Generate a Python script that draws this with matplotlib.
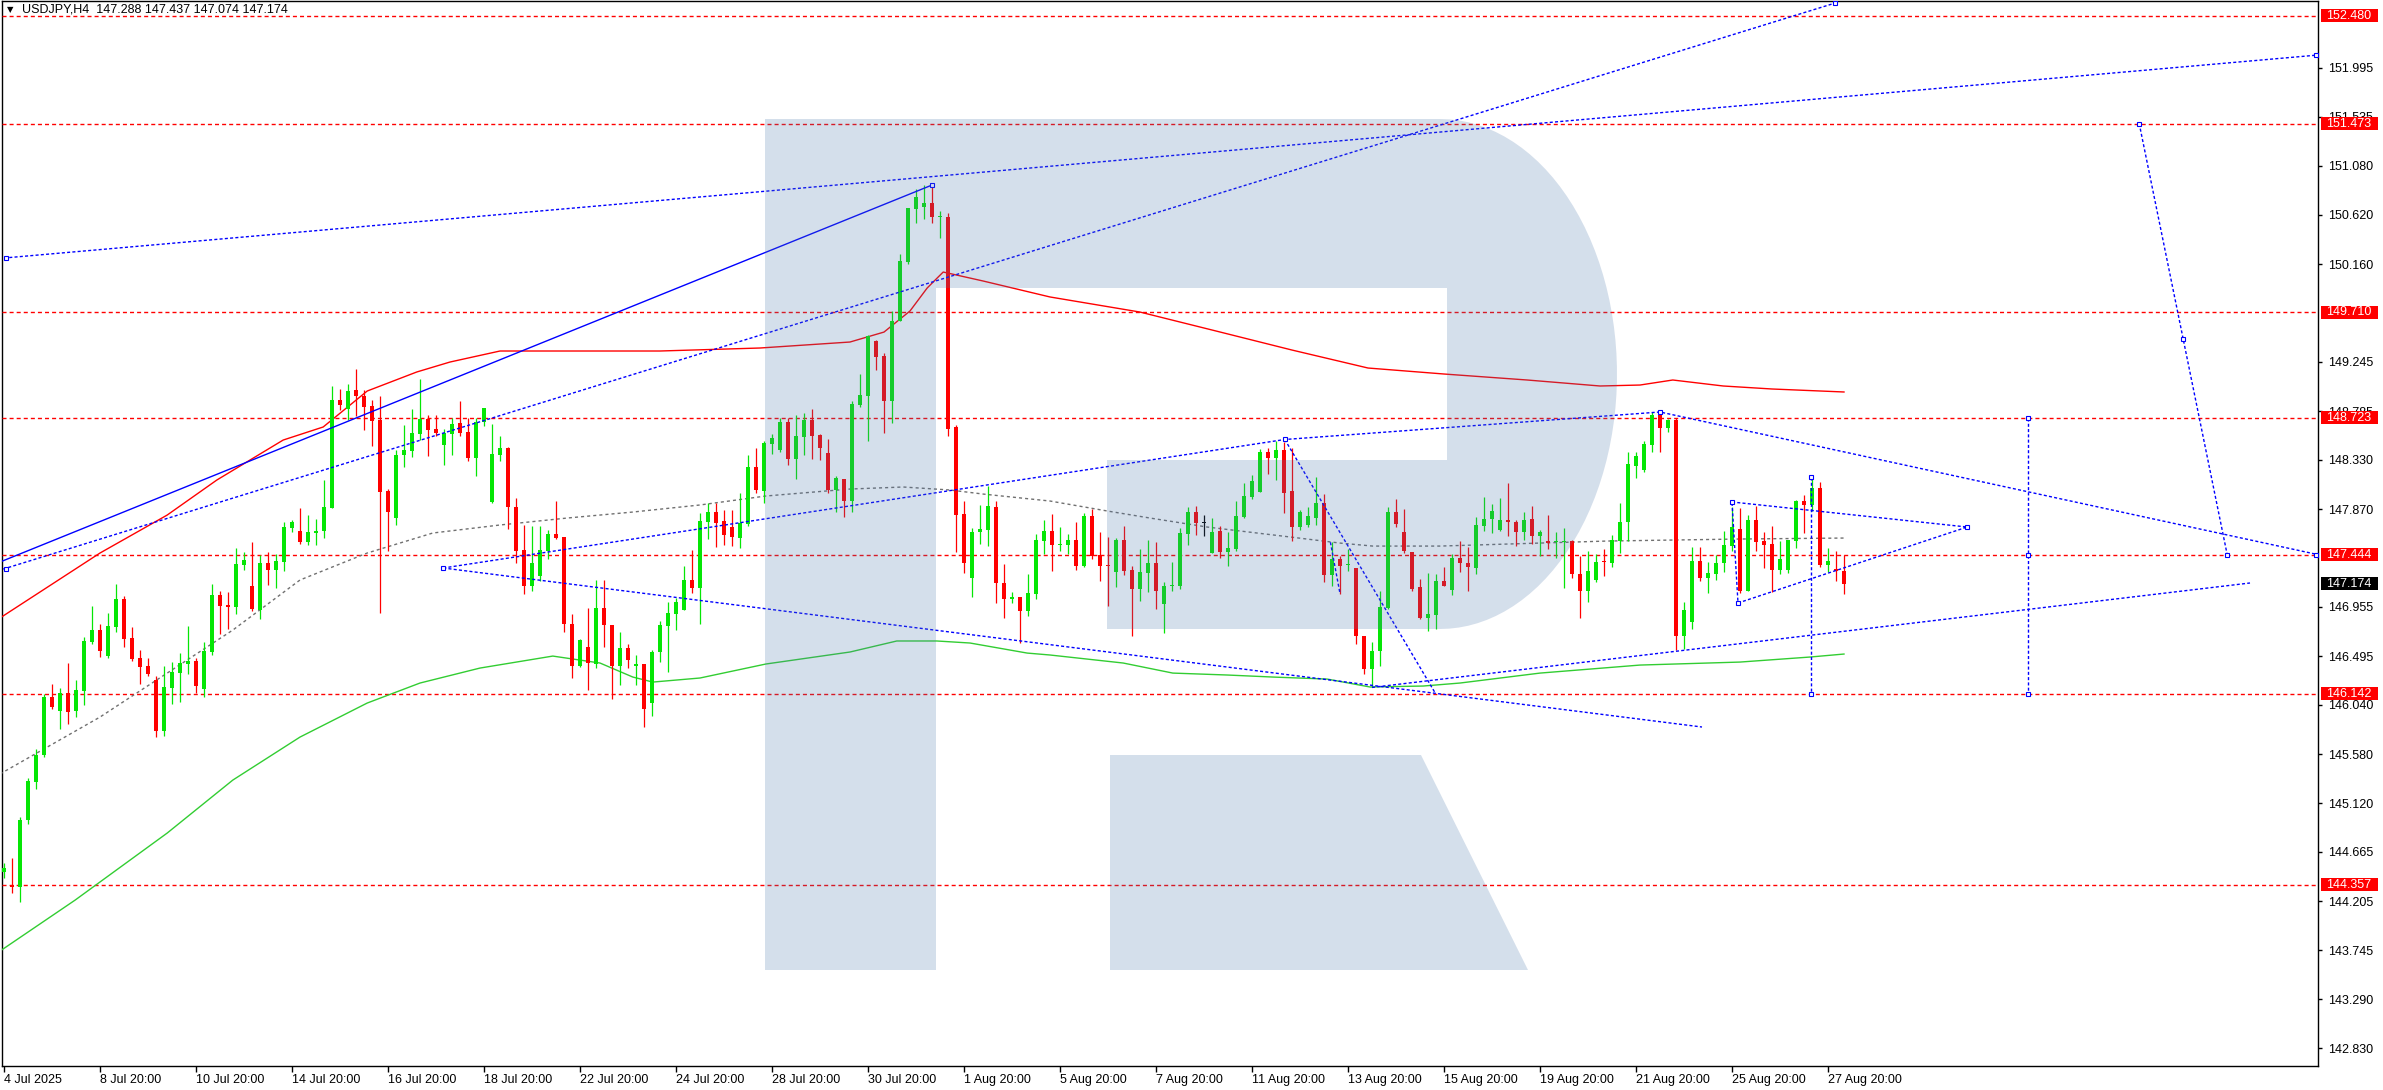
import numpy as np
import matplotlib
matplotlib.use("Agg")
import matplotlib.pyplot as plt
import matplotlib.transforms as mtransforms
from matplotlib.patches import Polygon, Rectangle

plt.rcParams['font.family'] = ['Liberation Sans', 'DejaVu Sans']
plt.rcParams['lines.scale_dashes'] = False

# H4 candles, bar 0 = 4 Jul 2025 20:00
opens = [
    144.475, 144.357, 144.335, 144.96, 145.319, 145.569, 146.113, 145.982, 146.15, 145.982,
    146.169, 146.625, 146.741, 146.497, 146.769, 147.031, 146.666, 146.478, 146.403, 146.272,
    145.794, 146.197, 146.338, 146.422, 146.45, 146.188, 146.531, 147.069, 146.975, 146.956,
    147.35, 147.153, 146.928, 147.369, 147.303, 147.378, 147.697, 147.669, 147.56, 147.65,
    147.663, 147.882, 148.891, 148.806, 148.985, 148.928, 148.835, 148.703, 148.038, 147.788,
    148.375, 148.413, 148.575, 148.713, 148.619, 148.469, 148.575, 148.675, 148.591, 148.35,
    148.685, 147.935, 148.375, 148.441, 147.888, 147.484, 147.147, 147.241, 147.478, 147.635,
    147.606, 146.8, 146.406, 146.585, 146.422, 146.941, 146.791, 146.4, 146.575, 146.4,
    146.425, 146.053, 146.531, 146.781, 146.885, 146.931, 147.203, 147.132, 147.749, 147.847,
    147.756, 147.7, 147.601, 147.733, 148.267, 148.038, 148.477, 148.421, 148.684, 148.339,
    148.543, 148.7, 148.562, 148.392, 148.051, 148.149, 147.946, 148.838, 148.93, 149.438,
    149.3, 148.881, 149.625, 150.176, 150.675, 150.694, 150.734, 150.6, 150.602, 148.635,
    147.821, 147.224, 147.651, 147.674, 147.887, 147.182, 147.027, 147.05, 146.919, 147.077,
    147.572, 147.663, 147.535, 147.535, 147.578, 147.338, 147.803, 147.441, 147.345, 147.281,
    147.578, 147.297, 147.122, 147.272, 147.363, 146.981, 147.147, 147.147, 147.638, 147.841,
    147.735, 147.46, 147.663, 147.469, 147.497, 147.797, 147.985, 148.031, 148.403, 148.35,
    148.422, 148.038, 147.703, 147.722, 147.788, 147.925, 147.253, 147.4, 147.345, 147.316,
    146.688, 146.372, 146.541, 146.944, 147.841, 147.653, 147.472, 147.138, 146.85, 146.878,
    147.194, 147.11, 147.416, 147.369, 147.322, 147.71, 147.775, 147.678, 147.772, 147.753,
    147.653, 147.781, 147.616, 147.563, 147.566, 147.566, 147.575, 147.266, 147.1, 147.21,
    147.378, 147.369, 147.569, 147.747, 148.272, 148.235, 148.469, 148.75, 148.628, 148.7,
    146.685, 146.819, 147.388, 147.222, 147.266, 147.363, 147.522, 147.688, 147.1, 147.763,
    147.569, 147.541, 147.297, 147.297, 147.569, 147.941, 147.906, 148.063, 147.344, 147.313,
    147.288]
highs = [
    144.56, 144.613, 144.988, 145.357, 145.632, 146.138, 146.238, 146.194, 146.432, 146.272,
    146.675, 146.966, 146.794, 146.9, 147.172, 147.06, 146.769, 146.553, 146.481, 146.31,
    146.403, 146.444, 146.528, 146.778, 146.481, 146.628, 147.172, 147.1, 147.091, 147.51,
    147.472, 147.566, 147.444, 147.466, 147.453, 147.753, 147.772, 147.884, 147.819, 147.781,
    148.141, 149.022, 148.994, 149.041, 149.181, 148.985, 148.891, 148.928, 148.056, 148.422,
    148.656, 148.806, 149.088, 148.75, 148.75, 148.619, 148.722, 148.881, 148.725, 148.722,
    148.816, 148.666, 148.553, 148.453, 147.969, 147.719, 147.71, 147.71, 147.672, 147.944,
    147.606, 146.885, 146.66, 146.941, 147.203, 147.203, 146.791, 146.725, 146.613, 146.51,
    146.425, 146.556, 146.828, 147.006, 147.035, 147.335, 147.485, 147.831, 147.929, 147.929,
    147.864, 147.864, 148.018, 148.372, 148.444, 148.51, 148.575, 148.717, 148.717, 148.749,
    148.766, 148.805, 148.575, 148.52, 148.175, 148.149, 148.881, 149.133, 149.497, 149.454,
    149.333, 149.717, 150.255, 150.684, 150.865, 150.898, 150.898, 150.652, 150.635, 148.651,
    147.946, 147.69, 147.906, 148.084, 147.946, 147.355, 147.093, 147.05, 147.264, 147.634,
    147.772, 147.828, 147.703, 147.641, 147.747, 147.835, 147.875, 147.653, 147.61, 147.6,
    147.71, 147.334, 147.494, 147.578, 147.56, 147.185, 147.372, 147.694, 147.891, 147.897,
    147.813, 147.785, 147.71, 147.653, 147.944, 148.116, 148.185, 148.431, 148.441, 148.51,
    148.497, 148.444, 147.86, 147.891, 148.169, 148.01, 147.563, 147.428, 147.497, 147.316,
    146.688, 146.631, 147.1, 147.888, 147.963, 147.869, 147.472, 147.213, 147.269, 147.26,
    147.325, 147.45, 147.575, 147.513, 147.794, 147.981, 147.919, 147.975, 148.11, 147.772,
    147.847, 147.894, 147.678, 147.81, 147.66, 147.691, 147.585, 147.435, 147.481, 147.453,
    147.5, 147.631, 147.922, 148.4, 148.4, 148.503, 148.775, 148.788, 148.716, 148.722,
    146.997, 147.519, 147.513, 147.372, 147.444, 147.669, 147.888, 147.878, 147.81, 147.903,
    147.66, 147.716, 147.569, 147.578, 147.956, 147.997, 148.169, 148.122, 147.51, 147.481,
    147.437]
lows = [
    144.419, 144.278, 144.2, 144.925, 145.257, 145.55, 146.003, 145.813, 145.863, 145.925,
    146.038, 146.613, 146.491, 146.478, 146.722, 146.581, 146.447, 146.238, 146.31, 145.738,
    145.747, 146.05, 146.066, 146.328, 146.147, 146.116, 146.506, 146.706, 146.75, 146.888,
    147.303, 146.919, 146.838, 147.163, 147.135, 147.294, 147.66, 147.544, 147.538, 147.538,
    147.6, 147.882, 148.797, 148.703, 148.735, 148.61, 148.46, 146.897, 147.478, 147.719,
    148.266, 148.36, 148.516, 148.366, 148.553, 148.281, 148.375, 148.553, 148.319, 148.178,
    148.647, 147.925, 148.319, 147.681, 147.369, 147.072, 147.1, 147.194, 147.4, 147.588,
    146.725, 146.294, 146.397, 146.181, 146.381, 146.585, 146.097, 146.222, 146.381, 146.228,
    145.835, 145.938, 146.438, 146.344, 146.744, 146.922, 147.085, 146.8, 147.592, 147.519,
    147.536, 147.526, 147.503, 147.716, 148.018, 147.929, 148.389, 148.405, 148.28, 148.152,
    148.372, 148.339, 148.333, 148.018, 147.838, 147.798, 147.847, 148.821, 148.503, 149.169,
    148.582, 148.677, 149.625, 150.16, 150.547, 150.58, 150.543, 150.406, 148.553, 147.47,
    147.273, 147.05, 147.542, 147.526, 146.995, 146.854, 146.995, 146.617, 146.87, 147.027,
    147.447, 147.291, 147.478, 147.447, 147.303, 147.328, 147.403, 147.194, 146.963, 147.141,
    147.253, 146.681, 147.01, 147.094, 146.935, 146.71, 147.103, 147.122, 147.531, 147.628,
    147.616, 147.46, 147.413, 147.338, 147.478, 147.785, 147.966, 148.028, 148.197, 148.141,
    147.835, 147.572, 147.675, 147.703, 147.722, 147.188, 147.153, 147.072, 147.291, 146.606,
    146.325, 146.203, 146.406, 146.935, 147.703, 147.46, 147.103, 146.841, 146.728, 146.753,
    147.15, 147.063, 147.285, 147.106, 147.263, 147.669, 147.644, 147.666, 147.616, 147.522,
    147.578, 147.541, 147.428, 147.494, 147.41, 147.128, 147.222, 146.856, 146.997, 147.185,
    147.241, 147.325, 147.463, 147.569, 148.16, 148.216, 148.403, 148.403, 148.591, 146.556,
    146.566, 146.753, 147.194, 147.082, 147.21, 147.278, 147.475, 147.082, 147.1, 147.481,
    147.316, 147.091, 147.26, 147.269, 147.503, 147.644, 147.85, 147.325, 147.278, 147.194,
    147.074]
closes = [
    144.519, 144.335, 144.966, 145.325, 145.575, 146.113, 146.019, 146.15, 145.975, 146.178,
    146.638, 146.741, 146.544, 146.778, 147.031, 146.66, 146.472, 146.397, 146.325, 145.794,
    146.21, 146.347, 146.432, 146.45, 146.219, 146.544, 147.069, 146.966, 146.956, 147.36,
    147.397, 146.938, 147.369, 147.303, 147.388, 147.706, 147.753, 147.56, 147.66, 147.669,
    147.888, 148.891, 148.844, 148.975, 148.922, 148.825, 148.697, 148.031, 147.844, 148.375,
    148.422, 148.582, 148.713, 148.613, 148.585, 148.582, 148.666, 148.582, 148.35, 148.685,
    148.816, 148.385, 148.441, 147.891, 147.478, 147.147, 147.363, 147.484, 147.635, 147.603,
    146.794, 146.406, 146.65, 146.428, 146.941, 146.785, 146.4, 146.575, 146.463, 146.425,
    146.006, 146.538, 146.791, 146.894, 146.997, 147.203, 147.131, 147.756, 147.847, 147.742,
    147.628, 147.611, 147.736, 148.267, 148.044, 148.487, 148.53, 148.684, 148.339, 148.553,
    148.7, 148.553, 148.444, 148.044, 148.159, 147.946, 148.848, 148.936, 149.487, 149.29,
    148.881, 149.628, 150.186, 150.684, 150.789, 150.734, 150.602, 150.609, 148.618, 147.815,
    147.369, 147.651, 147.683, 147.897, 147.182, 147.027, 147.05, 146.919, 147.083, 147.578,
    147.663, 147.535, 147.54, 147.578, 147.338, 147.803, 147.431, 147.338, 147.338, 147.578,
    147.291, 147.122, 147.278, 147.363, 147.103, 147.147, 147.15, 147.644, 147.841, 147.735,
    147.735, 147.653, 147.469, 147.503, 147.803, 147.991, 148.131, 148.403, 148.35, 148.422,
    148.022, 147.703, 147.841, 147.803, 147.925, 147.253, 147.4, 147.338, 147.35, 146.681,
    146.372, 146.547, 146.95, 147.841, 147.731, 147.478, 147.122, 146.85, 146.885, 147.194,
    147.15, 147.416, 147.363, 147.325, 147.725, 147.781, 147.856, 147.772, 147.747, 147.653,
    147.772, 147.616, 147.66, 147.557, 147.569, 147.57, 147.26, 147.1, 147.294, 147.378,
    147.372, 147.585, 147.753, 148.288, 148.363, 148.475, 148.75, 148.628, 148.7, 146.685,
    146.928, 147.388, 147.222, 147.275, 147.369, 147.531, 147.7, 147.1, 147.763, 147.56,
    147.531, 147.297, 147.406, 147.578, 147.941, 147.906, 148.063, 147.344, 147.388, 147.291,
    147.174]

symbol_text = "USDJPY,H4  147.288 147.437 147.074 147.174"
date_labels = ["4 Jul 2025", "8 Jul 20:00", "10 Jul 20:00", "14 Jul 20:00", "16 Jul 20:00",
               "18 Jul 20:00", "22 Jul 20:00", "24 Jul 20:00", "28 Jul 20:00", "30 Jul 20:00",
               "1 Aug 20:00", "5 Aug 20:00", "7 Aug 20:00", "11 Aug 20:00", "13 Aug 20:00",
               "15 Aug 20:00", "19 Aug 20:00", "21 Aug 20:00", "25 Aug 20:00", "27 Aug 20:00"]
label_step = 12
# grid prices still readable on the scale (others sit under the level boxes)
price_ticks = [151.995, 151.535, 151.080, 150.620, 150.160, 149.245, 148.785, 148.330,
               147.870, 146.955, 146.495, 146.040, 145.580, 145.120, 144.665, 144.205,
               143.745, 143.290, 142.830]
levels = [152.480, 151.473, 149.710, 148.723, 147.444, 146.142, 144.357]
last_price = 147.174

# moving averages (bar index, price)
ma_red_x = [-0.5, 12, 20.4, 26.6, 34.9, 39.9, 45.4, 51.6, 55.75, 62, 82, 94.5, 105.75, 110,
            113.25, 115.4, 117.4, 122.4, 130.75, 142, 151.5, 161, 170.5, 180, 190.4, 199.5,
            204.5, 208.6, 214.9, 221, 230]
ma_red_y = [146.852, 147.459, 147.814, 148.141, 148.515, 148.637, 148.973, 149.151, 149.244,
            149.347, 149.347, 149.375, 149.431, 149.524, 149.721, 149.936, 150.085, 150.001,
            149.852, 149.711, 149.534, 149.356, 149.188, 149.132, 149.076, 149.02, 149.029,
            149.076, 149.02, 148.992, 148.964]
ma_green_x = [-0.5, 8.9, 20.4, 28.6, 37, 45.4, 52, 59.5, 68.6, 74.5, 78.6, 81.1, 87, 95.25,
              105.75, 111.6, 116.6, 120.75, 127.9, 130.75, 139.9, 146.1, 152.9, 158.6, 165.4,
              170.75, 177.4, 182, 192, 204.5, 217, 225.75, 230]
ma_green_y = [143.739, 144.216, 144.842, 145.337, 145.739, 146.057, 146.244, 146.384, 146.496,
              146.431, 146.3, 146.253, 146.291, 146.422, 146.534, 146.637, 146.637, 146.618,
              146.524, 146.506, 146.431, 146.337, 146.319, 146.3, 146.281, 146.207, 146.216,
              146.244, 146.337, 146.412, 146.44, 146.487, 146.515]
ma_gray_x = [-0.5, 12, 20.4, 28.6, 37, 45.4, 53.6, 62, 70.4, 78.6, 87, 95.25, 105.75, 112.4,
             118.25, 122.4, 130.75, 137.9, 143.25, 150.4, 154.5, 160.75, 167, 171.1, 179.5,
             200.4, 217, 230]
ma_gray_y = [145.394, 145.926, 146.337, 146.739, 147.207, 147.459, 147.646, 147.721, 147.786,
             147.842, 147.908, 147.992, 148.057, 148.076, 148.048, 148.01, 147.945, 147.852,
             147.786, 147.702, 147.665, 147.609, 147.552, 147.524, 147.524, 147.571, 147.59,
             147.599]

# trend lines (bar index, price)
trend_solid = [(-0.5, 147.375), (116, 150.898)]
trend_dashed = [
    [(0, 150.216), (289.25, 152.113)],
    [(-0.1, 147.309), (228.9, 152.599)],
    [(54.9, 147.319), (160.1, 148.52), (207, 148.777), (289.25, 147.444)],
    [(54.9, 147.319), (212.25, 145.833)],
    [(171, 146.203), (280.75, 147.179)],
    [(160.1, 148.52), (178.9, 146.151)],
    [(165.8, 147.56), (167, 147.08)],
    [(216, 147.936), (245.4, 147.702), (216.75, 146.992), (216, 147.936)],
    [(225.9, 148.169), (225.9, 146.142)],
    [(253, 148.723), (253, 146.142)],
    [(266.9, 151.473), (277.9, 147.444)],
]
anchors = [(0.3, 150.216), (0.3, 147.309), (116, 150.898), (228.9, 152.599), (54.9, 147.319),
           (160.1, 148.52), (207, 148.777), (289, 147.444), (216, 147.936), (216.75, 146.992),
           (245.4, 147.702), (225.9, 148.169), (225.9, 146.142), (253, 148.723),
           (253, 147.444), (253, 146.142), (266.9, 151.473), (272.4, 149.459),
           (277.9, 147.444), (289, 152.113)]

W, H = 2383, 1090
BULL, BEAR = '#05e605', '#ff0000'


def main():
    fig = plt.figure(figsize=(W / 100, H / 100), dpi=100)
    ax = fig.add_axes([2 / W, 24 / H, 2316 / W, 1065 / H])
    px = mtransforms.Affine2D().scale(1, -1).translate(0, H)   # pixel, y from top

    o, h, l, c = map(np.array, (opens, highs, lows, closes))
    idx = np.arange(len(o))
    cols = np.where(c > o, BULL, np.where(c < o, BEAR, 'black'))
    ax.vlines(idx, l, h, colors=cols, linewidth=0.9, zorder=4)
    ax.bar(idx, np.maximum(np.abs(c - o), 0.01), bottom=np.minimum(o, c), width=0.62,
           color=cols, linewidth=0, zorder=5)

    # horizontal levels
    for p in levels:
        ax.axhline(p, color='#ff0000', lw=1.0, dashes=(2.9, 2.2), zorder=3)

    # moving averages
    ax.plot(ma_red_x, ma_red_y, color='#ff0000', lw=1.0, zorder=3)
    ax.plot(ma_green_x, ma_green_y, color='#32cd32', lw=1.0, zorder=3)
    ax.plot(ma_gray_x, ma_gray_y, color='#707070', lw=1.0, dashes=(2.2, 2.2), zorder=3)

    # trend lines
    xs, ys = zip(*trend_solid)
    ax.plot(xs, ys, color='#0000ff', lw=1.0, zorder=6)
    for seg in trend_dashed:
        xs, ys = zip(*seg)
        ax.plot(xs, ys, color='#0000ff', lw=1.0, dashes=(2.2, 1.6), zorder=6)
    xs, ys = zip(*anchors)
    ax.plot(xs, ys, 's', ms=3.2, mfc='white', mec='#0000ff', mew=0.8, zorder=7)

    # watermark logo (semi transparent overlay)
    t = np.linspace(np.pi / 2, -np.pi / 2, 60)
    arc = [(1440 + 177 * np.cos(a), 374 - 255 * np.sin(a)) for a in t]
    bowl = [(765, 119)] + arc + [(1107, 629), (1107, 460), (1447, 460), (1447, 288),
                                (936, 288), (936, 970), (765, 970)]
    leg = [(1110, 755), (1421, 755), (1528, 970), (1110, 970)]
    for shape in (bowl, leg):
        ax.add_patch(Polygon(shape, closed=True, transform=px, facecolor='#4c77aa',
                             edgecolor='none', alpha=0.235, zorder=8))

    ax.set_xlim(-0.25, 289.25)
    ax.set_ylim(142.665, 152.618)

    # axes / ticks
    for s in ax.spines.values():
        s.set_linewidth(1.0)
        s.set_color('black')
    ax.yaxis.tick_right()
    ax.set_yticks(price_ticks)
    ax.set_yticklabels([f"{p:.3f}" for p in price_ticks])
    ax.tick_params(axis='y', direction='out', length=3, width=1, pad=4, labelsize=9)
    tick_pos = np.arange(0, len(o), label_step)[:len(date_labels)]
    ax.set_xticks(tick_pos)
    ax.set_xticklabels(date_labels, ha='left')
    ax.tick_params(axis='x', direction='out', length=4, width=1, pad=2, labelsize=9)

    # price boxes on the right scale
    ident = mtransforms.IdentityTransform()
    boxes = [(p, '#ff0000') for p in levels] + [(last_price, 'black')]
    for p, col in boxes:
        yd = ax.transData.transform((0, p))[1]
        fig.add_artist(Rectangle((2321, yd - 6.5), 57, 13, transform=ident,
                                 facecolor=col, edgecolor='none', zorder=5))
        fig.text(2326, yd, f"{p:.3f}", transform=ident, color='white', fontsize=9,
                 va='center', ha='left', zorder=6)

    # header
    fig.text(7, H - 10, '\u25bc', transform=ident, fontsize=6, va='center',
             family=['DejaVu Sans'])
    fig.text(22, H - 9, symbol_text, transform=ident, fontsize=9, va='center')

    fig.savefig("out.png", dpi=100)


if __name__ == "__main__":
    main()
